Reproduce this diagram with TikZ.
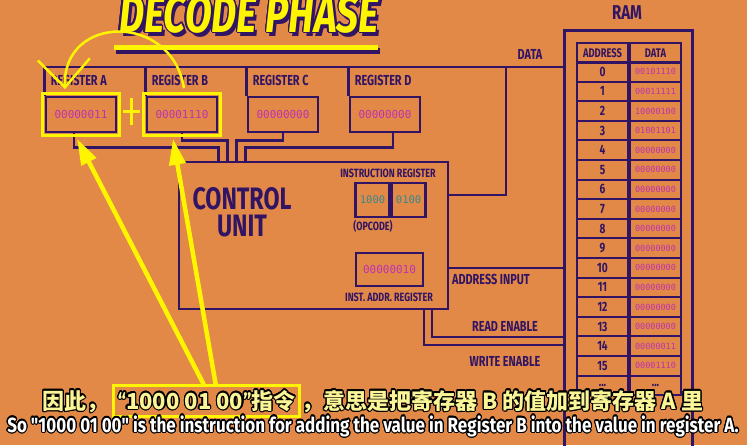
\documentclass[tikz,border=0pt]{standalone}
\usepackage{fontspec}
\setmainfont{Fira Sans}
\newfontfamily\condfont[FakeStretch=0.75]{Fira Sans}
\newfontfamily\subfont[FakeStretch=0.83]{Fira Sans}
\newfontfamily\bitfont{DejaVu Sans Mono}
\newfontfamily\cjk{Noto Sans CJK SC}
\usepackage{contour}
\contourlength{1.2pt}
\usetikzlibrary{arrows.meta,positioning,calc,fit}

\definecolor{bgorange}{RGB}{226,137,72}
\definecolor{wirepurple}{RGB}{50,20,100}
\definecolor{bitpink}{RGB}{190,50,175}
\definecolor{opteal}{RGB}{55,135,140}
\definecolor{penyellow}{RGB}{255,245,0}
\definecolor{subyellow}{RGB}{250,245,150}

\newcommand\shadowed[1]{\rlap{\kern3pt\raisebox{-4pt}{\textcolor{wirepurple}{#1}}}\contour{wirepurple}{#1}}
\newcommand\qmark[1]{{\subfont\bfseries #1}}

\tikzset{
  wire/.style={draw=wirepurple, line width=2.6pt},
  lbl/.style={text=wirepurple, inner sep=0pt, font=\condfont\bfseries\fontsize{14.5}{15}\selectfont},
  smalllbl/.style={lbl, font=\condfont\bfseries\fontsize{12}{13}\selectfont},
  regbox/.style={wire, minimum width=70pt, minimum height=35pt, inner sep=0pt, text=bitpink, font=\bitfont\fontsize{11}{11}\selectfont},
  cell/.style={wire, line width=2pt, minimum width=51pt, minimum height=19.6pt, inner sep=0pt},
  addrcell/.style={cell, text=wirepurple, font=\condfont\bfseries\fontsize{13.5}{13}\selectfont},
  datacell/.style={cell, text=bitpink, font=\bitfont\fontsize{8.5}{9}\selectfont},
  pen/.style={draw=penyellow, line width=3pt},
  bigarrow/.style={draw=penyellow, line width=4.5pt, -{Triangle[length=26pt,width=16pt]}},
  subcn/.style={inner sep=0pt, text=subyellow, font=\cjk\bfseries\fontsize{22}{22}\selectfont},
  suben/.style={inner sep=0pt, text=white, font=\subfont\bfseries\fontsize{20.5}{21}\selectfont}
}

\begin{document}
\begin{tikzpicture}[x=1pt,y=-1pt]
  \fill[bgorange] (0,0) rectangle (747,445);
  \useasboundingbox (0,0) rectangle (747,445);
  \clip (0,0) rectangle (747,445);

  \node[anchor=base, inner sep=0pt, text=penyellow, font=\condfont\bfseries\itshape\fontsize{52}{52}\selectfont] (title) at (249,32) {\shadowed{DECODE PHASE}};
  \fill[wirepurple] (116,48) rectangle (380,54);
  \fill[penyellow] (114,44.5) rectangle (378,50);

  \node[regbox] (regA) at (81,114.5) {00000011};
  \node[regbox] (regB) at (182,114.5) {00001110};
  \node[regbox] (regC) at (283,114.5) {00000000};
  \node[regbox] (regD) at (385,114.5) {00000000};
  \node[lbl, anchor=base west] (labA) at ([xshift=6pt,yshift=10pt]regA.north west) {REGISTER A};
  \node[lbl, anchor=base west] (labB) at ([xshift=6pt,yshift=10pt]regB.north west) {REGISTER B};
  \node[lbl, anchor=base west] (labC) at ([xshift=6pt,yshift=10pt]regC.north west) {REGISTER C};
  \node[lbl, anchor=base west] (labD) at ([xshift=6pt,yshift=10pt]regD.north west) {REGISTER D};

  \node[wire, anchor=north west, minimum width=128pt, minimum height=440pt, inner sep=0pt] (ram) at (563,29) {};
  \node[lbl, anchor=base, font=\condfont\bfseries\fontsize{20}{20}\selectfont] (ramlbl) at (627,19) {RAM};
  \node[cell, anchor=north west, text=wirepurple, font=\condfont\bfseries\fontsize{12.5}{13}\selectfont] (hAddr) at (576,42) {ADDRESS};
  \node[cell, right=0pt of hAddr, text=wirepurple, font=\condfont\bfseries\fontsize{12.5}{13}\selectfont] (hData) {DATA};
  \foreach \i/\v in {0/00101110,1/00011111,2/10000100,3/01001101,4/00000000,5/00000000,
                     6/00000000,7/00000000,8/00000000,9/00000000,10/00000000,11/00000000,
                     12/00000000,13/00000000,14/00000011,15/00001110}{
    \node[addrcell, anchor=north west] (a\i) at (576,{61+19.6*\i}) {\i};
    \node[datacell, right=0pt of a\i] (d\i) {\v};
  }
  \node[addrcell, anchor=north west] (a16) at (576,{61+19.6*16}) {...};
  \node[addrcell, right=0pt of a16] (d16) {...};

  \node[wire, minimum width=269pt, minimum height=147pt, inner sep=0pt] (cu) at (313.5,235.5) {};
  \node[lbl, align=center, font=\condfont\bfseries\fontsize{31}{27}\selectfont] (cutext) at (242,212) {CONTROL\\UNIT};
  \node[smalllbl] (irlbl) at (388,173) {INSTRUCTION REGISTER};
  \node[wire, minimum width=33.5pt, minimum height=34pt, inner sep=0pt, text=opteal, font=\bitfont\fontsize{10.5}{11}\selectfont] (ir1) at (372.5,200) {1000};
  \node[wire, minimum width=33.5pt, minimum height=34pt, inner sep=0pt, text=opteal, font=\bitfont\fontsize{10.5}{11}\selectfont, right=0pt of ir1] (ir2) {0100};
  \node[smalllbl] (opc) at (373,226) {(OPCODE)};
  \node[regbox, minimum width=67pt, minimum height=33pt] (iar) at (389.5,269.5) {00000010};
  \node[smalllbl] (iarlbl) at (389,297) {INST. ADDR. REGISTER};

  \coordinate (bus) at (0,67);
  \coordinate (dtap) at (506,67);
  \draw[wire] (regA.north west) |- ([yshift=-38pt]ram.north west);
  \draw[wire] (regB.north west) -- (regB.north west |- bus);
  \draw[wire] (regC.north west) -- (regC.north west |- bus);
  \draw[wire] (regD.north west) -- (regD.north west |- bus);

  \draw[wire] ([xshift=-7pt]regA.south) |- ([xshift=41pt,yshift=13pt]cu.north west) -- ([xshift=41pt]cu.north west);
  \draw[wire] (regB.south) |- ([xshift=50pt,yshift=20pt]cu.north west) -- ([xshift=50pt]cu.north west);
  \draw[wire] (regC.south) |- ([xshift=59pt,yshift=20pt]cu.north west) -- ([xshift=59pt]cu.north west);
  \draw[wire] ([xshift=8pt]regD.south) |- ([xshift=68pt,yshift=13pt]cu.north west) -- ([xshift=68pt]cu.north west);

  \draw[wire] ([yshift=40.5pt]cu.east) -| (dtap);
  \draw[wire] ([yshift=-32.5pt]cu.east) coordinate (ai) -- (ai -| ram.west);
  \draw[wire] ([xshift=118.5pt]cu.south) |- ([yshift=-308pt]ram.north west);
  \draw[wire] ([xshift=110.5pt]cu.south) |- ([yshift=-316pt]ram.north west);
  \node[lbl] (datalbl) at (530,54) {DATA};
  \node[lbl] (ailbl) at (491,279) {ADDRESS INPUT};
  \node[lbl] (relbl) at (505,326) {READ ENABLE};
  \node[lbl] (welbl) at (505,361) {WRITE ENABLE};

  \node[pen, fit=(regA), inner sep=2pt] (hlA) {};
  \node[pen, fit=(regB), inner sep=2pt] (hlB) {};
  \coordinate (plus) at ($(hlA.east)!0.5!(hlB.west)+(0,-3)$);
  \draw[pen] ([yshift=14pt]plus) -- ([yshift=-13pt]plus) ([xshift=-9pt]plus) -- ([xshift=8pt]plus);
  \draw[pen, line width=2.5pt, -{Straight Barb[length=28pt,width=52pt]}] ([xshift=2pt,yshift=4pt]hlB.north) .. controls (172,12) and (62,14) .. ([xshift=-16pt,yshift=3pt]hlA.north);

  \node[subcn, anchor=base west] (s1) at (42,409) {\contour{black}{因此，}};
  \node[subcn, anchor=base west, pen, inner xsep=4pt, inner ysep=4pt] (quote) at ([xshift=4pt]s1.base east) {\contour{black}{\qmark{“}1000 01 00\qmark{”}指令}};
  \node[subcn, anchor=base west] (s3) at (quote.base east) {\contour{black}{，意思是把寄存器 B 的值加到寄存器 A 里}};
  \node[suben, anchor=base] (en) at (373,432) {\contour{black}{So "1000 01 00" is the instruction for adding the value in Register B into the value in register A.}};

  \draw[bigarrow] ([xshift=-3pt]quote.north) -- ([xshift=-4pt,yshift=-2pt]hlA.south);
  \draw[bigarrow] ([xshift=9pt]quote.north) -- ([xshift=-9pt,yshift=-2pt]hlB.south);
\end{tikzpicture}
\end{document}
